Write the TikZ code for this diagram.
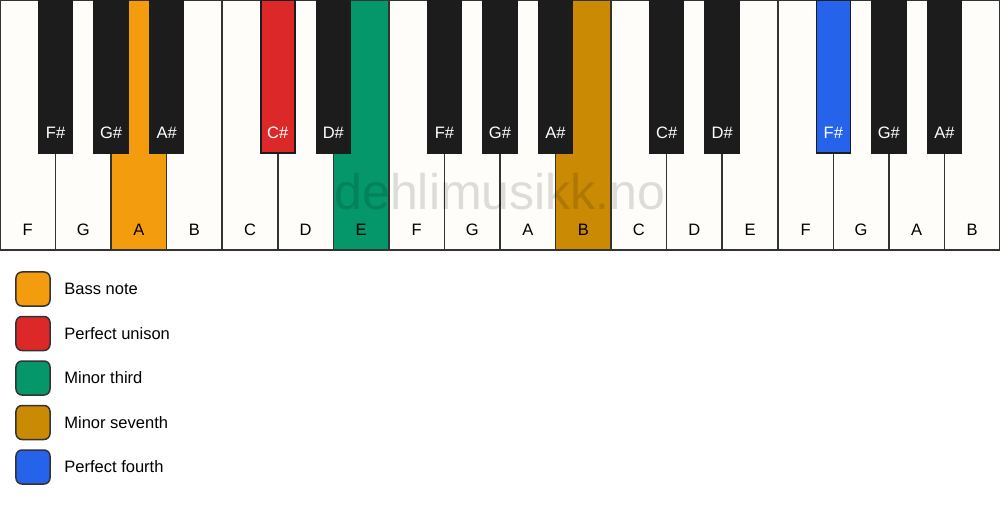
\documentclass[tikz,border=0pt]{standalone}
\usepackage{fontspec}
\setmainfont{Liberation Sans}
\definecolor{ivory}{HTML}{FFFDF9}
\definecolor{keyblack}{HTML}{1C1C1C}
\definecolor{keyline}{HTML}{333333}
\definecolor{bass}{HTML}{F39C0E}
\definecolor{unison}{HTML}{DC2828}
\definecolor{third}{HTML}{059669}
\definecolor{seventh}{HTML}{CA8A04}
\definecolor{fourth}{HTML}{2563EB}
\tikzset{
  whitekey/.style={draw=keyline,line width=0.3mm},
  blackkey/.style={draw=keyblack,line width=0.3mm},
  keylabel/.style={font=\fontsize{9.4}{11}\selectfont},
  legendbox/.style={draw=keyline,line width=0.3mm,rounded corners=1.2mm,minimum size=6.8mm,inner sep=0pt},
}
\begin{document}
\begin{tikzpicture}[x=0.2mm,y=-0.2mm]
  \useasboundingbox (0,0) rectangle (1000,506);
  \def\kw{55.5556}
  % white keys
  \foreach[count=\i,evaluate={(\i-1)*\kw} as \x] \n/\c in {F/ivory,G/ivory,A/bass,B/ivory,C/ivory,D/ivory,E/third,F/ivory,G/ivory,A/ivory,B/seventh,C/ivory,D/ivory,E/ivory,F/ivory,G/ivory,A/ivory,B/ivory} {
    \draw[whitekey,fill=\c] (\x,0) rectangle (\x+\kw,250);
    \node[keylabel] (w\i) at (\x+0.5*\kw,230) {\n};
  }
  \node[font=\fontsize{28.5}{30}\selectfont,text=black,text opacity=0.13] (mark) at (500,192) {dehlimusikk.no};
  % black keys
  \foreach \b/\n/\c in {1/F/keyblack,2/G/keyblack,3/A/keyblack,5/C/unison,6/D/keyblack,8/F/keyblack,9/G/keyblack,10/A/keyblack,12/C/keyblack,13/D/keyblack,15/F/fourth,16/G/keyblack,17/A/keyblack} {
    \draw[blackkey,fill=\c] (\b*\kw-17,0) rectangle (\b*\kw+17,153);
    \node[keylabel,text=white] (b\b) at (\b*\kw,133) {\n\#};
  }
  % legend
  \foreach[count=\j,evaluate={289+(\j-1)*44.5} as \y] \c/\t in {bass/Bass note,unison/Perfect unison,third/Minor third,seventh/Minor seventh,fourth/Perfect fourth} {
    \node[legendbox,fill=\c] (box\j) at (33,\y) {};
    \node[keylabel,anchor=west,inner sep=0pt] (text\j) at (64,\y) {\t};
  }
\end{tikzpicture}
\end{document}
